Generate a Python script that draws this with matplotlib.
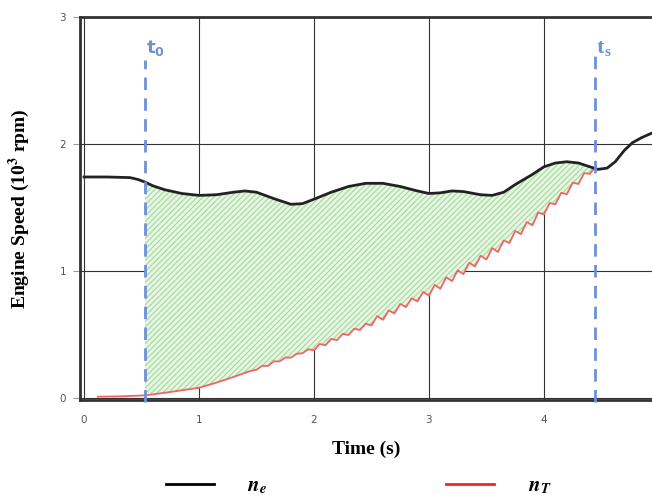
import numpy as np
import matplotlib
matplotlib.use("Agg")
import matplotlib.pyplot as plt
from matplotlib.lines import Line2D

# engine speed n_e (10^3 rpm)
t_ne = [0.0, 0.2, 0.4, 0.47, 0.53, 0.6, 0.7, 0.85, 1.0, 1.15, 1.3, 1.4, 1.5, 1.65, 1.8, 1.9,
        2.0, 2.15, 2.3, 2.45, 2.6, 2.75, 2.9, 3.0, 3.1, 3.2, 3.3, 3.45, 3.55, 3.65,
        3.75, 3.9, 4.0, 4.1, 4.2, 4.3, 4.4, 4.47, 4.55, 4.62, 4.7, 4.77, 4.85, 4.95]
ne = [1.74, 1.74, 1.735, 1.72, 1.70, 1.67, 1.64, 1.61, 1.595, 1.60, 1.62, 1.63, 1.62, 1.57, 1.525, 1.53,
      1.565, 1.62, 1.665, 1.69, 1.69, 1.665, 1.63, 1.61, 1.615, 1.63, 1.625, 1.60, 1.595, 1.62,
      1.68, 1.76, 1.82, 1.85, 1.86, 1.85, 1.82, 1.80, 1.81, 1.86, 1.95, 2.01, 2.05, 2.09]

# turbine speed n_T (10^3 rpm)
t_nt = [0.12, 0.3, 0.53, 0.7, 0.85, 1.0, 1.15, 1.3, 1.44,
        1.50, 1.55, 1.60, 1.65, 1.70, 1.75, 1.80, 1.85, 1.90, 1.95,
        2.00, 2.05, 2.10, 2.15, 2.20, 2.25, 2.30, 2.35, 2.40, 2.45,
        2.50, 2.55, 2.60, 2.65, 2.70, 2.75, 2.80, 2.85, 2.90, 2.95,
        3.00, 3.05, 3.10, 3.15, 3.20, 3.25, 3.30, 3.35, 3.40, 3.45,
        3.50, 3.55, 3.60, 3.65, 3.70, 3.75, 3.80, 3.85, 3.90, 3.95,
        4.00, 4.05, 4.10, 4.15, 4.20, 4.25, 4.30, 4.35, 4.40, 4.44]
nt = [0.01, 0.012, 0.02, 0.04, 0.06, 0.08, 0.12, 0.165, 0.21,
      0.222, 0.253, 0.252, 0.288, 0.287, 0.318, 0.317, 0.348, 0.352, 0.383,
      0.375, 0.425, 0.415, 0.465, 0.455, 0.505, 0.495, 0.545, 0.535, 0.585,
      0.57, 0.645, 0.615, 0.69, 0.665, 0.74, 0.715, 0.785, 0.76, 0.835,
      0.805, 0.89, 0.86, 0.95, 0.92, 1.005, 0.975, 1.065, 1.035, 1.12,
      1.09, 1.18, 1.15, 1.24, 1.22, 1.315, 1.29, 1.385, 1.36, 1.46,
      1.445, 1.535, 1.525, 1.615, 1.605, 1.695, 1.685, 1.77, 1.765, 1.81]

t0 = 0.53
ts = 4.44

t_ne = np.array(t_ne); ne = np.array(ne)
t_nt = np.array(t_nt); nt = np.array(nt)

fig = plt.figure(figsize=(6.52, 4.95), dpi=100)
ax = fig.add_axes([0.1227, 0.192, 0.8773, 0.7737])

# shaded area between the two curves
m1 = (t_ne > t0) & (t_ne < ts)
m2 = (t_nt > t0) & (t_nt < ts)
px = np.concatenate([[t0], t_ne[m1], [ts], t_nt[m2][::-1], [t0]])
py = np.concatenate([[np.interp(t0, t_ne, ne)], ne[m1], [np.interp(ts, t_ne, ne)],
                     nt[m2][::-1], [np.interp(t0, t_nt, nt)]])
plt.rcParams['hatch.linewidth'] = 0.8
ax.fill(px, py, facecolor='#e6f6e2', edgecolor='#a3d99c', linewidth=0, hatch='//////', zorder=1)

ax.plot(t_nt, nt, color='#f06464', lw=1.3, zorder=3)
ax.plot(t_ne, ne, color='#222222', lw=2.0, zorder=4)

blue = '#6f8fd6'
ax.plot([t0, t0], [-0.03, 2.66], color=blue, lw=2, ls=(0, (4.5, 3)), zorder=5, clip_on=False)
ax.plot([ts, ts], [-0.03, 2.7], color=blue, lw=2, ls=(0, (4.5, 3)), zorder=5, clip_on=False)
ax.text(t0 + 0.01, 2.72, r'$\mathbf{t_0}$', color=blue, fontsize=13, math_fontfamily='dejavusans')
ax.text(ts + 0.02, 2.72, 't', color=blue, fontsize=16, family='Liberation Serif', fontweight='bold')
ax.text(ts + 0.085, 2.69, 's', color=blue, fontsize=11, family='Liberation Serif', fontweight='bold')

ax.set_xlim(-0.035, 4.94)
ax.set_ylim(-0.016, 3.0)
ax.set_xticks([0, 1, 2, 3, 4])
ax.set_yticks([0, 1, 2, 3])
ax.grid(True, color='#333333', lw=0.8)
ax.set_axisbelow(True)
ax.tick_params(axis='x', length=0, pad=11, labelsize=7.5, labelcolor='#555555')
ax.tick_params(axis='y', length=5, width=0.8, color='#999999', pad=5, labelsize=7.5, labelcolor='#555555')
for s in ['top', 'left', 'bottom']:
    ax.spines[s].set_linewidth(2)
    ax.spines[s].set_color('#333333')
ax.spines['right'].set_visible(False)

serif = 'Liberation Serif'
ax.set_xlabel('Time (s)', family=serif, fontweight='bold', fontsize=14, labelpad=11)
ax.set_ylabel(r'Engine Speed (10$^\mathbf{3}$ rpm)', family=serif, fontweight='bold', fontsize=14,
              labelpad=20, math_fontfamily='stix')

h1 = Line2D([], [], color='black', lw=2)
h2 = Line2D([], [], color='#ff2020', lw=2)
leg = fig.legend([h1, h2], [r'$\mathbfit{n}_\mathbfit{e}$', r'$\mathbfit{n}_\mathbfit{T}$'],
                 loc='lower center', bbox_to_anchor=(0.55, -0.04), ncol=2, frameon=False,
                 handlelength=2.3, handletextpad=1.6, columnspacing=8.6, fontsize=15)
for tx in leg.get_texts():
    tx.set_math_fontfamily('stix')

fig.savefig('out.png', dpi=100)
